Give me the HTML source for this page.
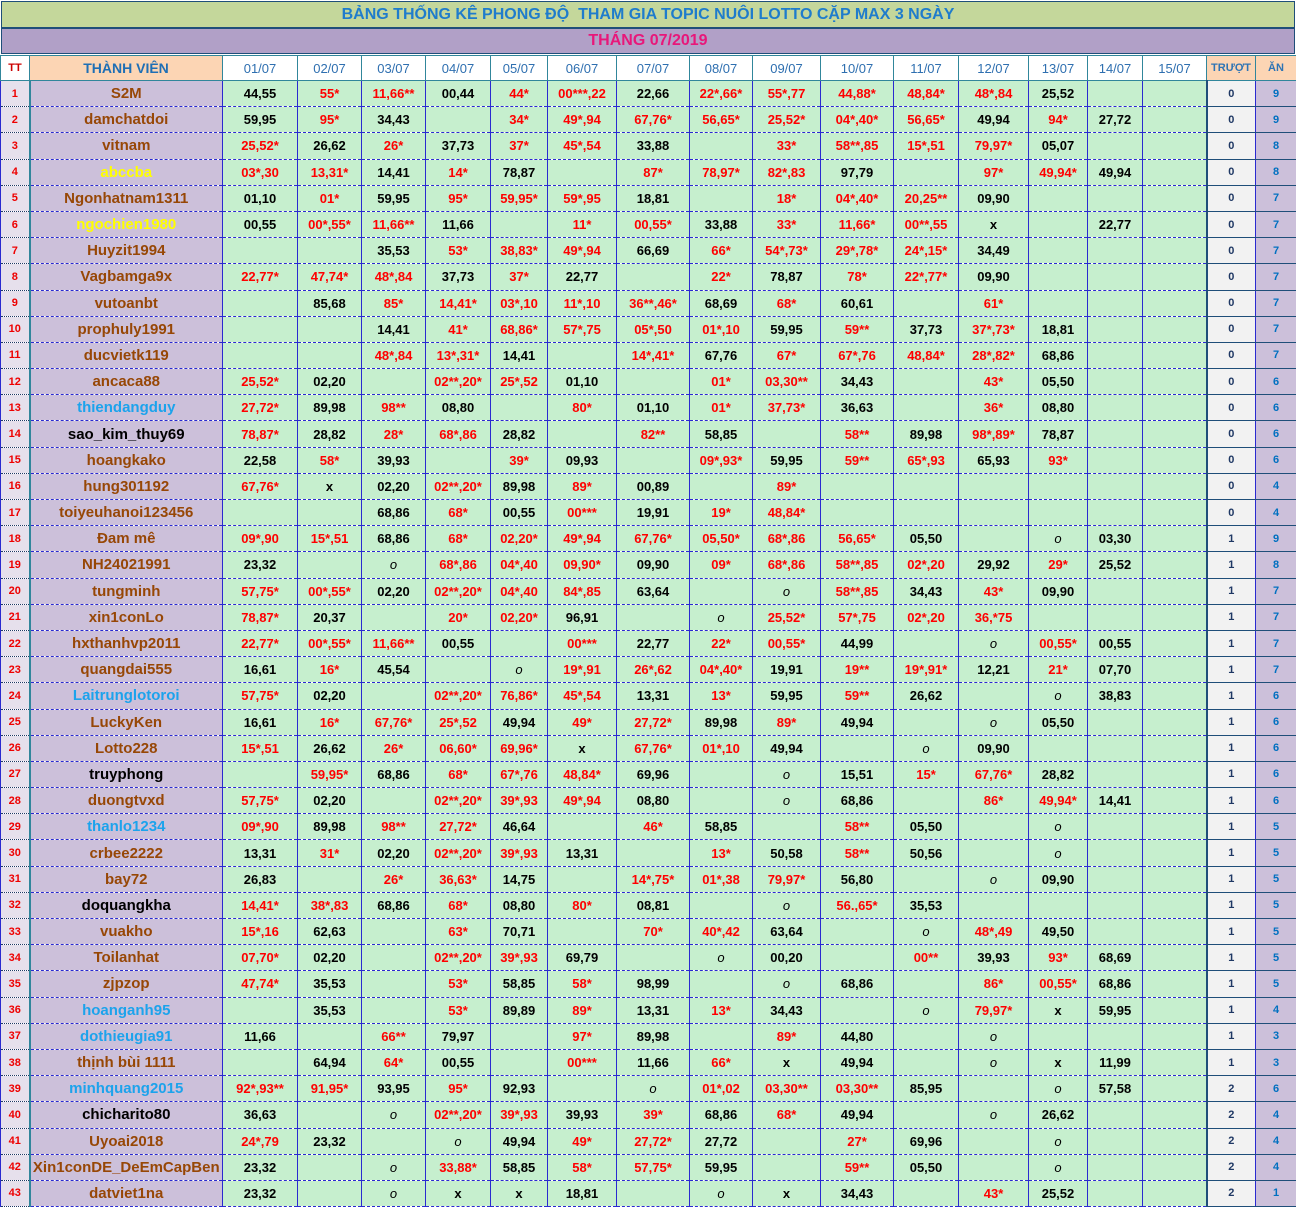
<!DOCTYPE html>
<html><head><meta charset="utf-8"><style>
body{margin:0;width:1296px;height:1207px;overflow:hidden;background:#fff;font-family:"Liberation Sans",sans-serif}
.t{position:absolute;left:1px;top:1px;width:1292px;height:25px;background:#c4d79b;border:1px solid #1f4e79;color:#1f7ccc;font-weight:bold;font-size:16px;text-align:center;line-height:25px}
.m{position:absolute;left:1px;top:28px;width:1292px;height:24px;background:#b1a0c7;border:1px solid #1f4e79;color:#e8177a;font-weight:bold;font-size:16px;text-align:center;line-height:24px}
table{position:absolute;left:0;top:55px;border-collapse:collapse;table-layout:fixed;width:1296px}
td{padding:0;text-align:center;font-weight:bold;font-size:13px;color:#000;background:#c6efce;border-left:1px solid #2a2ad0;border-right:1px solid #2a2ad0;border-bottom:1px dashed #2a2ad0;height:25.19px;white-space:nowrap;overflow:hidden}
tr.h td{background:#fff;color:#2e6fb0;font-weight:normal;font-size:13px;border:1px solid #31869b;height:24px}
tr.h td:nth-child(2){background:#fcd5b4;color:#1f6fb5;font-weight:bold;font-size:14px}
tr.h td:nth-child(1){color:#c00;font-weight:bold;font-size:11px}
tr.h td:nth-child(18),tr.h td:nth-child(19){background:#fcd5b4;color:#2e74b5;font-weight:bold;font-size:11px}
td:nth-child(1){background:#e6e0ec;color:#e00;font-size:11px;border-bottom:1px dotted #1f3864}
td:nth-child(2){background:#ccc0da;color:#974706;font-size:15px;border-left:2px solid #31869b}
td:nth-child(18){background:#f2f2f2;color:#1f3864;font-size:11px;border-left:2px solid #1f4e79;border-bottom:1px solid #1f4e79}
td:nth-child(19){background:#ccc0da;color:#0070c0;font-size:11px;border-bottom:1px solid #1f4e79}
td.r{color:#f00}
td.o{font-style:italic;font-weight:normal}
td.y{color:#ffff00}
td.b{color:#1ca3ec}
td.k{color:#000}
</style></head><body>
<div class="t">BẢNG THỐNG KÊ PHONG ĐỘ&nbsp; THAM GIA TOPIC NUÔI LOTTO CẶP MAX 3 NGÀY</div>
<div class="m">THÁNG 07/2019</div>
<table>
<colgroup><col style="width:29px"><col style="width:193px"><col style="width:75px"><col style="width:64px"><col style="width:64px"><col style="width:65px"><col style="width:57px"><col style="width:69px"><col style="width:73px"><col style="width:63px"><col style="width:68px"><col style="width:73px"><col style="width:65px"><col style="width:70px"><col style="width:59px"><col style="width:55px"><col style="width:64px"><col style="width:49px"><col style="width:41px"></colgroup>
<tr class="h"><td>TT</td><td>THÀNH VIÊN</td><td>01/07</td><td>02/07</td><td>03/07</td><td>04/07</td><td>05/07</td><td>06/07</td><td>07/07</td><td>08/07</td><td>09/07</td><td>10/07</td><td>11/07</td><td>12/07</td><td>13/07</td><td>14/07</td><td>15/07</td><td>TRƯỢT</td><td>ĂN</td></tr>
<tr><td>1</td><td>S2M</td><td>44,55</td><td class=r>55*</td><td class=r>11,66**</td><td>00,44</td><td class=r>44*</td><td class=r>00***,22</td><td>22,66</td><td class=r>22*,66*</td><td class=r>55*,77</td><td class=r>44,88*</td><td class=r>48,84*</td><td class=r>48*,84</td><td>25,52</td><td></td><td></td><td>0</td><td>9</td></tr>
<tr><td>2</td><td>damchatdoi</td><td>59,95</td><td class=r>95*</td><td>34,43</td><td></td><td class=r>34*</td><td class=r>49*,94</td><td class=r>67,76*</td><td class=r>56,65*</td><td class=r>25,52*</td><td class=r>04*,40*</td><td class=r>56,65*</td><td>49,94</td><td class=r>94*</td><td>27,72</td><td></td><td>0</td><td>9</td></tr>
<tr><td>3</td><td>vitnam</td><td class=r>25,52*</td><td>26,62</td><td class=r>26*</td><td>37,73</td><td class=r>37*</td><td class=r>45*,54</td><td>33,88</td><td></td><td class=r>33*</td><td class=r>58**,85</td><td class=r>15*,51</td><td class=r>79,97*</td><td>05,07</td><td></td><td></td><td>0</td><td>8</td></tr>
<tr><td>4</td><td class=y>abccba</td><td class=r>03*,30</td><td class=r>13,31*</td><td>14,41</td><td class=r>14*</td><td>78,87</td><td></td><td class=r>87*</td><td class=r>78,97*</td><td class=r>82*,83</td><td>97,79</td><td></td><td class=r>97*</td><td class=r>49,94*</td><td>49,94</td><td></td><td>0</td><td>8</td></tr>
<tr><td>5</td><td>Ngonhatnam1311</td><td>01,10</td><td class=r>01*</td><td>59,95</td><td class=r>95*</td><td class=r>59,95*</td><td class=r>59*,95</td><td>18,81</td><td></td><td class=r>18*</td><td class=r>04*,40*</td><td class=r>20,25**</td><td>09,90</td><td></td><td></td><td></td><td>0</td><td>7</td></tr>
<tr><td>6</td><td class=y>ngochien1980</td><td>00,55</td><td class=r>00*,55*</td><td class=r>11,66**</td><td>11,66</td><td></td><td class=r>11*</td><td class=r>00,55*</td><td>33,88</td><td class=r>33*</td><td class=r>11,66*</td><td class=r>00**,55</td><td>x</td><td></td><td>22,77</td><td></td><td>0</td><td>7</td></tr>
<tr><td>7</td><td>Huyzit1994</td><td></td><td></td><td>35,53</td><td class=r>53*</td><td class=r>38,83*</td><td class=r>49*,94</td><td>66,69</td><td class=r>66*</td><td class=r>54*,73*</td><td class=r>29*,78*</td><td class=r>24*,15*</td><td>34,49</td><td></td><td></td><td></td><td>0</td><td>7</td></tr>
<tr><td>8</td><td>Vagbamga9x</td><td class=r>22,77*</td><td class=r>47,74*</td><td class=r>48*,84</td><td>37,73</td><td class=r>37*</td><td>22,77</td><td></td><td class=r>22*</td><td>78,87</td><td class=r>78*</td><td class=r>22*,77*</td><td>09,90</td><td></td><td></td><td></td><td>0</td><td>7</td></tr>
<tr><td>9</td><td>vutoanbt</td><td></td><td>85,68</td><td class=r>85*</td><td class=r>14,41*</td><td class=r>03*,10</td><td class=r>11*,10</td><td class=r>36**,46*</td><td>68,69</td><td class=r>68*</td><td>60,61</td><td></td><td class=r>61*</td><td></td><td></td><td></td><td>0</td><td>7</td></tr>
<tr><td>10</td><td>prophuly1991</td><td></td><td></td><td>14,41</td><td class=r>41*</td><td class=r>68,86*</td><td class=r>57*,75</td><td class=r>05*,50</td><td class=r>01*,10</td><td>59,95</td><td class=r>59**</td><td>37,73</td><td class=r>37*,73*</td><td>18,81</td><td></td><td></td><td>0</td><td>7</td></tr>
<tr><td>11</td><td>ducvietk119</td><td></td><td></td><td class=r>48*,84</td><td class=r>13*,31*</td><td>14,41</td><td></td><td class=r>14*,41*</td><td>67,76</td><td class=r>67*</td><td class=r>67*,76</td><td class=r>48,84*</td><td class=r>28*,82*</td><td>68,86</td><td></td><td></td><td>0</td><td>7</td></tr>
<tr><td>12</td><td>ancaca88</td><td class=r>25,52*</td><td>02,20</td><td></td><td class=r>02**,20*</td><td class=r>25*,52</td><td>01,10</td><td></td><td class=r>01*</td><td class=r>03,30**</td><td>34,43</td><td></td><td class=r>43*</td><td>05,50</td><td></td><td></td><td>0</td><td>6</td></tr>
<tr><td>13</td><td class=b>thiendangduy</td><td class=r>27,72*</td><td>89,98</td><td class=r>98**</td><td>08,80</td><td></td><td class=r>80*</td><td>01,10</td><td class=r>01*</td><td class=r>37,73*</td><td>36,63</td><td></td><td class=r>36*</td><td>08,80</td><td></td><td></td><td>0</td><td>6</td></tr>
<tr><td>14</td><td class=k>sao_kim_thuy69</td><td class=r>78,87*</td><td>28,82</td><td class=r>28*</td><td class=r>68*,86</td><td>28,82</td><td></td><td class=r>82**</td><td>58,85</td><td></td><td class=r>58**</td><td>89,98</td><td class=r>98*,89*</td><td>78,87</td><td></td><td></td><td>0</td><td>6</td></tr>
<tr><td>15</td><td>hoangkako</td><td>22,58</td><td class=r>58*</td><td>39,93</td><td></td><td class=r>39*</td><td>09,93</td><td></td><td class=r>09*,93*</td><td>59,95</td><td class=r>59**</td><td class=r>65*,93</td><td>65,93</td><td class=r>93*</td><td></td><td></td><td>0</td><td>6</td></tr>
<tr><td>16</td><td>hung301192</td><td class=r>67,76*</td><td>x</td><td>02,20</td><td class=r>02**,20*</td><td>89,98</td><td class=r>89*</td><td>00,89</td><td></td><td class=r>89*</td><td></td><td></td><td></td><td></td><td></td><td></td><td>0</td><td>4</td></tr>
<tr><td>17</td><td>toiyeuhanoi123456</td><td></td><td></td><td>68,86</td><td class=r>68*</td><td>00,55</td><td class=r>00***</td><td>19,91</td><td class=r>19*</td><td class=r>48,84*</td><td></td><td></td><td></td><td></td><td></td><td></td><td>0</td><td>4</td></tr>
<tr><td>18</td><td>Đam mê</td><td class=r>09*,90</td><td class=r>15*,51</td><td>68,86</td><td class=r>68*</td><td class=r>02,20*</td><td class=r>49*,94</td><td class=r>67,76*</td><td class=r>05,50*</td><td class=r>68*,86</td><td class=r>56,65*</td><td>05,50</td><td></td><td class=o>o</td><td>03,30</td><td></td><td>1</td><td>9</td></tr>
<tr><td>19</td><td>NH24021991</td><td>23,32</td><td></td><td class=o>o</td><td class=r>68*,86</td><td class=r>04*,40</td><td class=r>09,90*</td><td>09,90</td><td class=r>09*</td><td class=r>68*,86</td><td class=r>58**,85</td><td class=r>02*,20</td><td>29,92</td><td class=r>29*</td><td>25,52</td><td></td><td>1</td><td>8</td></tr>
<tr><td>20</td><td>tungminh</td><td class=r>57,75*</td><td class=r>00*,55*</td><td>02,20</td><td class=r>02**,20*</td><td class=r>04*,40</td><td class=r>84*,85</td><td>63,64</td><td></td><td class=o>o</td><td class=r>58**,85</td><td>34,43</td><td class=r>43*</td><td>09,90</td><td></td><td></td><td>1</td><td>7</td></tr>
<tr><td>21</td><td>xin1conLo</td><td class=r>78,87*</td><td>20,37</td><td></td><td class=r>20*</td><td class=r>02,20*</td><td>96,91</td><td></td><td class=o>o</td><td class=r>25,52*</td><td class=r>57*,75</td><td class=r>02*,20</td><td class=r>36,*75</td><td></td><td></td><td></td><td>1</td><td>7</td></tr>
<tr><td>22</td><td>hxthanhvp2011</td><td class=r>22,77*</td><td class=r>00*,55*</td><td class=r>11,66**</td><td>00,55</td><td></td><td class=r>00***</td><td>22,77</td><td class=r>22*</td><td class=r>00,55*</td><td>44,99</td><td></td><td class=o>o</td><td class=r>00,55*</td><td>00,55</td><td></td><td>1</td><td>7</td></tr>
<tr><td>23</td><td>quangdai555</td><td>16,61</td><td class=r>16*</td><td>45,54</td><td></td><td class=o>o</td><td class=r>19*,91</td><td class=r>26*,62</td><td class=r>04*,40*</td><td>19,91</td><td class=r>19**</td><td class=r>19*,91*</td><td>12,21</td><td class=r>21*</td><td>07,70</td><td></td><td>1</td><td>7</td></tr>
<tr><td>24</td><td class=b>Laitrunglotoroi</td><td class=r>57,75*</td><td>02,20</td><td></td><td class=r>02**,20*</td><td class=r>76,86*</td><td class=r>45*,54</td><td>13,31</td><td class=r>13*</td><td>59,95</td><td class=r>59**</td><td>26,62</td><td></td><td class=o>o</td><td>38,83</td><td></td><td>1</td><td>6</td></tr>
<tr><td>25</td><td>LuckyKen</td><td>16,61</td><td class=r>16*</td><td class=r>67,76*</td><td class=r>25*,52</td><td>49,94</td><td class=r>49*</td><td class=r>27,72*</td><td>89,98</td><td class=r>89*</td><td>49,94</td><td></td><td class=o>o</td><td>05,50</td><td></td><td></td><td>1</td><td>6</td></tr>
<tr><td>26</td><td>Lotto228</td><td class=r>15*,51</td><td>26,62</td><td class=r>26*</td><td class=r>06,60*</td><td class=r>69,96*</td><td>x</td><td class=r>67,76*</td><td class=r>01*,10</td><td>49,94</td><td></td><td class=o>o</td><td>09,90</td><td></td><td></td><td></td><td>1</td><td>6</td></tr>
<tr><td>27</td><td class=k>truyphong</td><td></td><td class=r>59,95*</td><td>68,86</td><td class=r>68*</td><td class=r>67*,76</td><td class=r>48,84*</td><td>69,96</td><td></td><td class=o>o</td><td>15,51</td><td class=r>15*</td><td class=r>67,76*</td><td>28,82</td><td></td><td></td><td>1</td><td>6</td></tr>
<tr><td>28</td><td>duongtvxd</td><td class=r>57,75*</td><td>02,20</td><td></td><td class=r>02**,20*</td><td class=r>39*,93</td><td class=r>49*,94</td><td>08,80</td><td></td><td class=o>o</td><td>68,86</td><td></td><td class=r>86*</td><td class=r>49,94*</td><td>14,41</td><td></td><td>1</td><td>6</td></tr>
<tr><td>29</td><td class=b>thanlo1234</td><td class=r>09*,90</td><td>89,98</td><td class=r>98**</td><td class=r>27,72*</td><td>46,64</td><td></td><td class=r>46*</td><td>58,85</td><td></td><td class=r>58**</td><td>05,50</td><td></td><td class=o>o</td><td></td><td></td><td>1</td><td>5</td></tr>
<tr><td>30</td><td>crbee2222</td><td>13,31</td><td class=r>31*</td><td>02,20</td><td class=r>02**,20*</td><td class=r>39*,93</td><td>13,31</td><td></td><td class=r>13*</td><td>50,58</td><td class=r>58**</td><td>50,56</td><td></td><td class=o>o</td><td></td><td></td><td>1</td><td>5</td></tr>
<tr><td>31</td><td>bay72</td><td>26,83</td><td></td><td class=r>26*</td><td class=r>36,63*</td><td>14,75</td><td></td><td class=r>14*,75*</td><td class=r>01*,38</td><td class=r>79,97*</td><td>56,80</td><td></td><td class=o>o</td><td>09,90</td><td></td><td></td><td>1</td><td>5</td></tr>
<tr><td>32</td><td class=k>doquangkha</td><td class=r>14,41*</td><td class=r>38*,83</td><td>68,86</td><td class=r>68*</td><td>08,80</td><td class=r>80*</td><td>08,81</td><td></td><td class=o>o</td><td class=r>56.,65*</td><td>35,53</td><td></td><td></td><td></td><td></td><td>1</td><td>5</td></tr>
<tr><td>33</td><td>vuakho</td><td class=r>15*,16</td><td>62,63</td><td></td><td class=r>63*</td><td>70,71</td><td></td><td class=r>70*</td><td class=r>40*,42</td><td>63,64</td><td></td><td class=o>o</td><td class=r>48*,49</td><td>49,50</td><td></td><td></td><td>1</td><td>5</td></tr>
<tr><td>34</td><td>Toilanhat</td><td class=r>07,70*</td><td>02,20</td><td></td><td class=r>02**,20*</td><td class=r>39*,93</td><td>69,79</td><td></td><td class=o>o</td><td>00,20</td><td></td><td class=r>00**</td><td>39,93</td><td class=r>93*</td><td>68,69</td><td></td><td>1</td><td>5</td></tr>
<tr><td>35</td><td>zjpzop</td><td class=r>47,74*</td><td>35,53</td><td></td><td class=r>53*</td><td>58,85</td><td class=r>58*</td><td>98,99</td><td></td><td class=o>o</td><td>68,86</td><td></td><td class=r>86*</td><td class=r>00,55*</td><td>68,86</td><td></td><td>1</td><td>5</td></tr>
<tr><td>36</td><td class=b>hoanganh95</td><td></td><td>35,53</td><td></td><td class=r>53*</td><td>89,89</td><td class=r>89*</td><td>13,31</td><td class=r>13*</td><td>34,43</td><td></td><td class=o>o</td><td class=r>79,97*</td><td>x</td><td>59,95</td><td></td><td>1</td><td>4</td></tr>
<tr><td>37</td><td class=b>dothieugia91</td><td>11,66</td><td></td><td class=r>66**</td><td>79,97</td><td></td><td class=r>97*</td><td>89,98</td><td></td><td class=r>89*</td><td>44,80</td><td></td><td class=o>o</td><td></td><td></td><td></td><td>1</td><td>3</td></tr>
<tr><td>38</td><td>thịnh bùi 1111</td><td></td><td>64,94</td><td class=r>64*</td><td>00,55</td><td></td><td class=r>00***</td><td>11,66</td><td class=r>66*</td><td>x</td><td>49,94</td><td></td><td class=o>o</td><td>x</td><td>11,99</td><td></td><td>1</td><td>3</td></tr>
<tr><td>39</td><td class=b>minhquang2015</td><td class=r>92*,93**</td><td class=r>91,95*</td><td>93,95</td><td class=r>95*</td><td>92,93</td><td></td><td class=o>o</td><td class=r>01*,02</td><td class=r>03,30**</td><td class=r>03,30**</td><td>85,95</td><td></td><td class=o>o</td><td>57,58</td><td></td><td>2</td><td>6</td></tr>
<tr><td>40</td><td class=k>chicharito80</td><td>36,63</td><td></td><td class=o>o</td><td class=r>02**,20*</td><td class=r>39*,93</td><td>39,93</td><td class=r>39*</td><td>68,86</td><td class=r>68*</td><td>49,94</td><td></td><td class=o>o</td><td>26,62</td><td></td><td></td><td>2</td><td>4</td></tr>
<tr><td>41</td><td>Uyoai2018</td><td class=r>24*,79</td><td>23,32</td><td></td><td class=o>o</td><td>49,94</td><td class=r>49*</td><td class=r>27,72*</td><td>27,72</td><td></td><td class=r>27*</td><td>69,96</td><td></td><td class=o>o</td><td></td><td></td><td>2</td><td>4</td></tr>
<tr><td>42</td><td>Xin1conDE_DeEmCapBen</td><td>23,32</td><td></td><td class=o>o</td><td class=r>33,88*</td><td>58,85</td><td class=r>58*</td><td class=r>57,75*</td><td>59,95</td><td></td><td class=r>59**</td><td>05,50</td><td></td><td class=o>o</td><td></td><td></td><td>2</td><td>4</td></tr>
<tr><td>43</td><td>datviet1na</td><td>23,32</td><td></td><td class=o>o</td><td>x</td><td>x</td><td>18,81</td><td></td><td class=o>o</td><td>x</td><td>34,43</td><td></td><td class=r>43*</td><td>25,52</td><td></td><td></td><td>2</td><td>1</td></tr>
</table>
</body></html>
